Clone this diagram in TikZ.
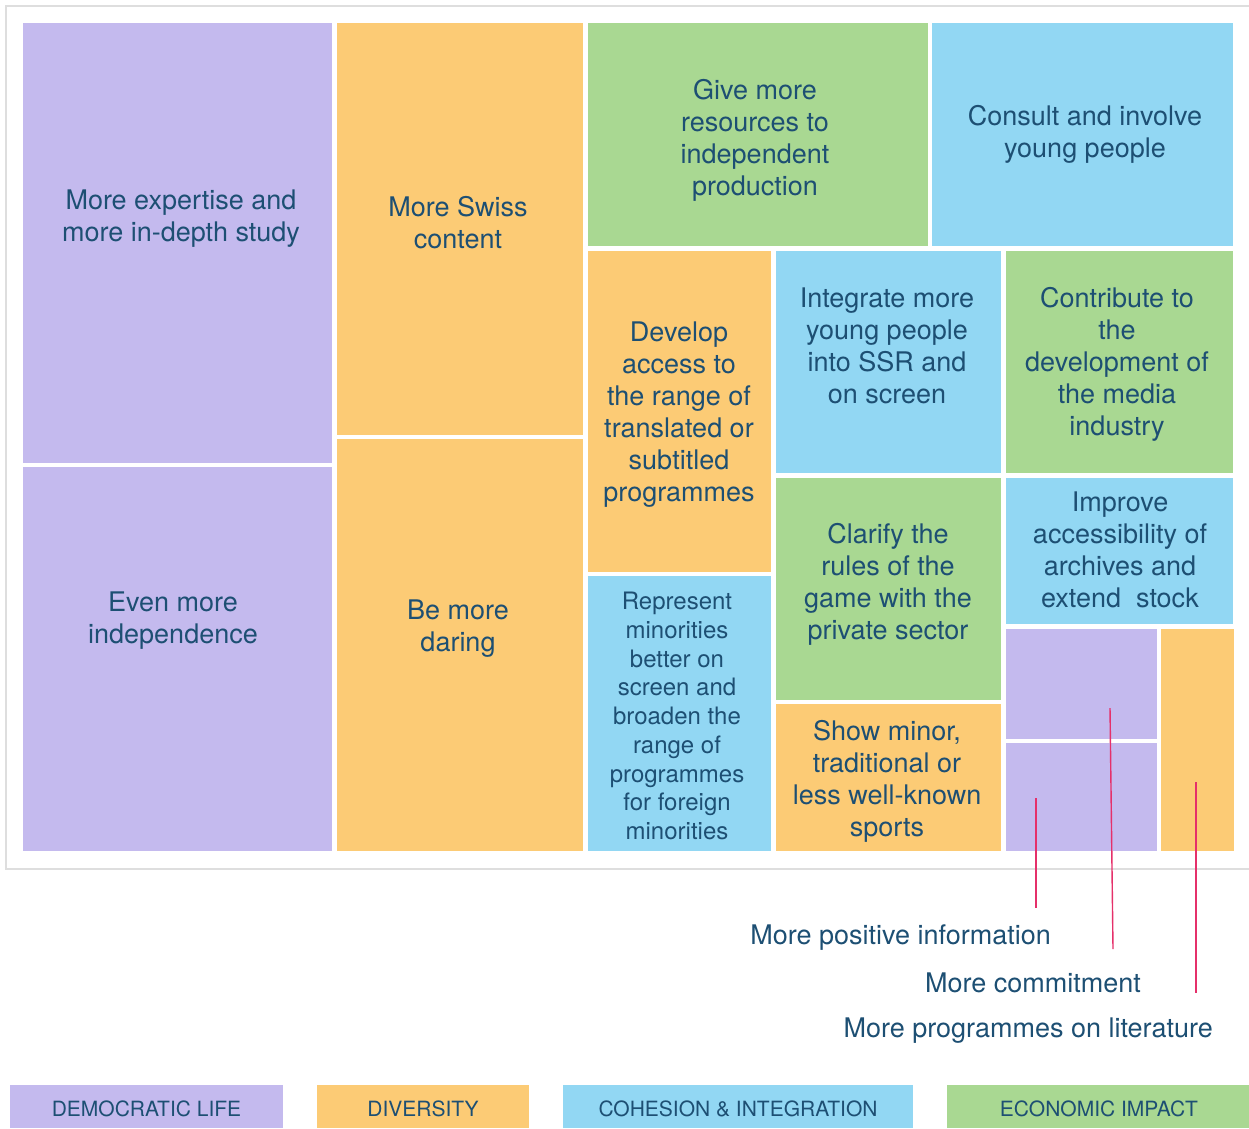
\documentclass[tikz,border=0pt]{standalone}
\usepackage{fontspec}
\setmainfont{TeX Gyre Heros}
\definecolor{dem}{HTML}{C4BAEE}
\definecolor{dvs}{HTML}{FCCB75}
\definecolor{coh}{HTML}{92D7F3}
\definecolor{eco}{HTML}{A9D892}
\definecolor{txt}{HTML}{1D4F73}
\definecolor{lead}{HTML}{E5306A}
\definecolor{framec}{HTML}{DEDEDE}
\newcommand\tmcell[6]{\fill[#2] (#3,#4) rectangle (#5,#6); \coordinate (#1) at ({(#3+#5)/2},{(#4+#6)/2});}
\tikzset{
  lbl/.style={text=txt, align=center, inner sep=0pt, yshift=-4.5pt, font=\fontsize{27}{32}\selectfont},
  lblsmall/.style={text=txt, align=center, inner sep=0pt, yshift=-2pt, font=\fontsize{24}{28.75}\selectfont},
  legtxt/.style={text=txt, inner sep=0pt, yshift=-1pt, font=\fontsize{21}{24}\selectfont},
  leader/.style={draw=lead, line width=1.4pt},
}
\begin{document}
\begin{tikzpicture}[x=1pt,y=-1pt]
\useasboundingbox (0,0) rectangle (1249,1128);
% frame
\draw[framec, line width=2pt] (1249,6) -- (6,6) -- (6,869) -- (1249,869);
% cells
\tmcell{c1}{dem}{23}{23}{332}{463}
\tmcell{c2}{dem}{23}{467}{332}{851}
\tmcell{c3}{dvs}{337}{23}{583}{435}
\tmcell{c4}{dvs}{337}{439}{583}{851}
\tmcell{c5}{eco}{588}{23}{928}{246}
\tmcell{c6}{coh}{932}{23}{1233}{246}
\tmcell{c7}{dvs}{588}{251}{771}{572}
\tmcell{c8}{coh}{588}{576}{771}{851}
\tmcell{c9}{coh}{776}{251}{1001}{473}
\tmcell{c10}{eco}{1006}{251}{1233}{473}
\tmcell{c11}{eco}{776}{478}{1001}{700}
\tmcell{c12}{dvs}{776}{704}{1001}{851}
\tmcell{c13}{coh}{1006}{478}{1233}{624}
\tmcell{c14}{dem}{1006}{629}{1157}{739}
\tmcell{c15}{dem}{1006}{743}{1157}{851}
\tmcell{c16}{dvs}{1161}{629}{1234}{851}
% texts
\node[lbl] (t1) at (181,214) {More expertise and\\more in-depth study};
\node[lbl] (t2) at (173,616) {Even more\\independence};
\node[lbl] (t3) at (458,218) {More Swiss\\content};
\node[lbl] (t4) at (458,624) {Be more\\daring};
\node[lbl] (t5) at (755,136) {Give more\\resources to\\independent\\production};
\node[lbl] (t6) at (1085,130) {Consult and involve\\young people};
\node[lbl] (t7) at (679,410) {Develop\\access to\\the range of\\translated or\\subtitled\\programmes};
\node[lblsmall] (t8) at (677,714) {Represent\\minorities\\better on\\screen and\\broaden the\\range of\\programmes\\for foreign\\minorities};
\node[lbl] (t9) at (887,341) {Integrate more\\young people\\into SSR and\\on screen};
\node[lbl] (t10) at (1117,360) {Contribute to\\the\\development of\\the media\\industry};
\node[lbl] (t11) at (888,580) {Clarify the\\rules of the\\game with the\\private sector};
\node[lbl] (t12) at (887,777) {Show minor,\\traditional or\\less well-known\\sports};
\node[lbl] (t13) at (1120,545) {Improve\\accessibility of\\archives and\\extend\ \ stock};
% outside labels
\node[lbl, anchor=east] (l1) at (1051,933) {More positive information};
\node[lbl, anchor=east] (l2) at (1141,978) {More commitment};
\node[lbl, anchor=east] (l3) at (1213,1026) {More programmes on literature};
% leaders
\coordinate (p1a) at (1036,798);
\coordinate (p1b) at (1036,908);
\coordinate (p2a) at (1110,708);
\coordinate (p2b) at (1113,949);
\coordinate (p3a) at (1196,782);
\coordinate (p3b) at (1196,993);
\draw[leader] (p1a) -- (p1b);
\draw[leader] (p2a) -- (p2b);
\draw[leader] (p3a) -- (p3b);
% legend
\fill[dem] (10,1085) rectangle (283,1128);
\fill[dvs] (317,1085) rectangle (529,1128);
\fill[coh] (563,1085) rectangle (913,1128);
\fill[eco] (947,1085) rectangle (1249,1128);
\node[legtxt] (g1) at (146.5,1108) {DEMOCRATIC LIFE};
\node[legtxt] (g2) at (423,1108) {DIVERSITY};
\node[legtxt] (g3) at (738,1108) {COHESION \& INTEGRATION};
\node[legtxt] (g4) at (1099,1108) {ECONOMIC IMPACT};
\end{tikzpicture}
\end{document}
